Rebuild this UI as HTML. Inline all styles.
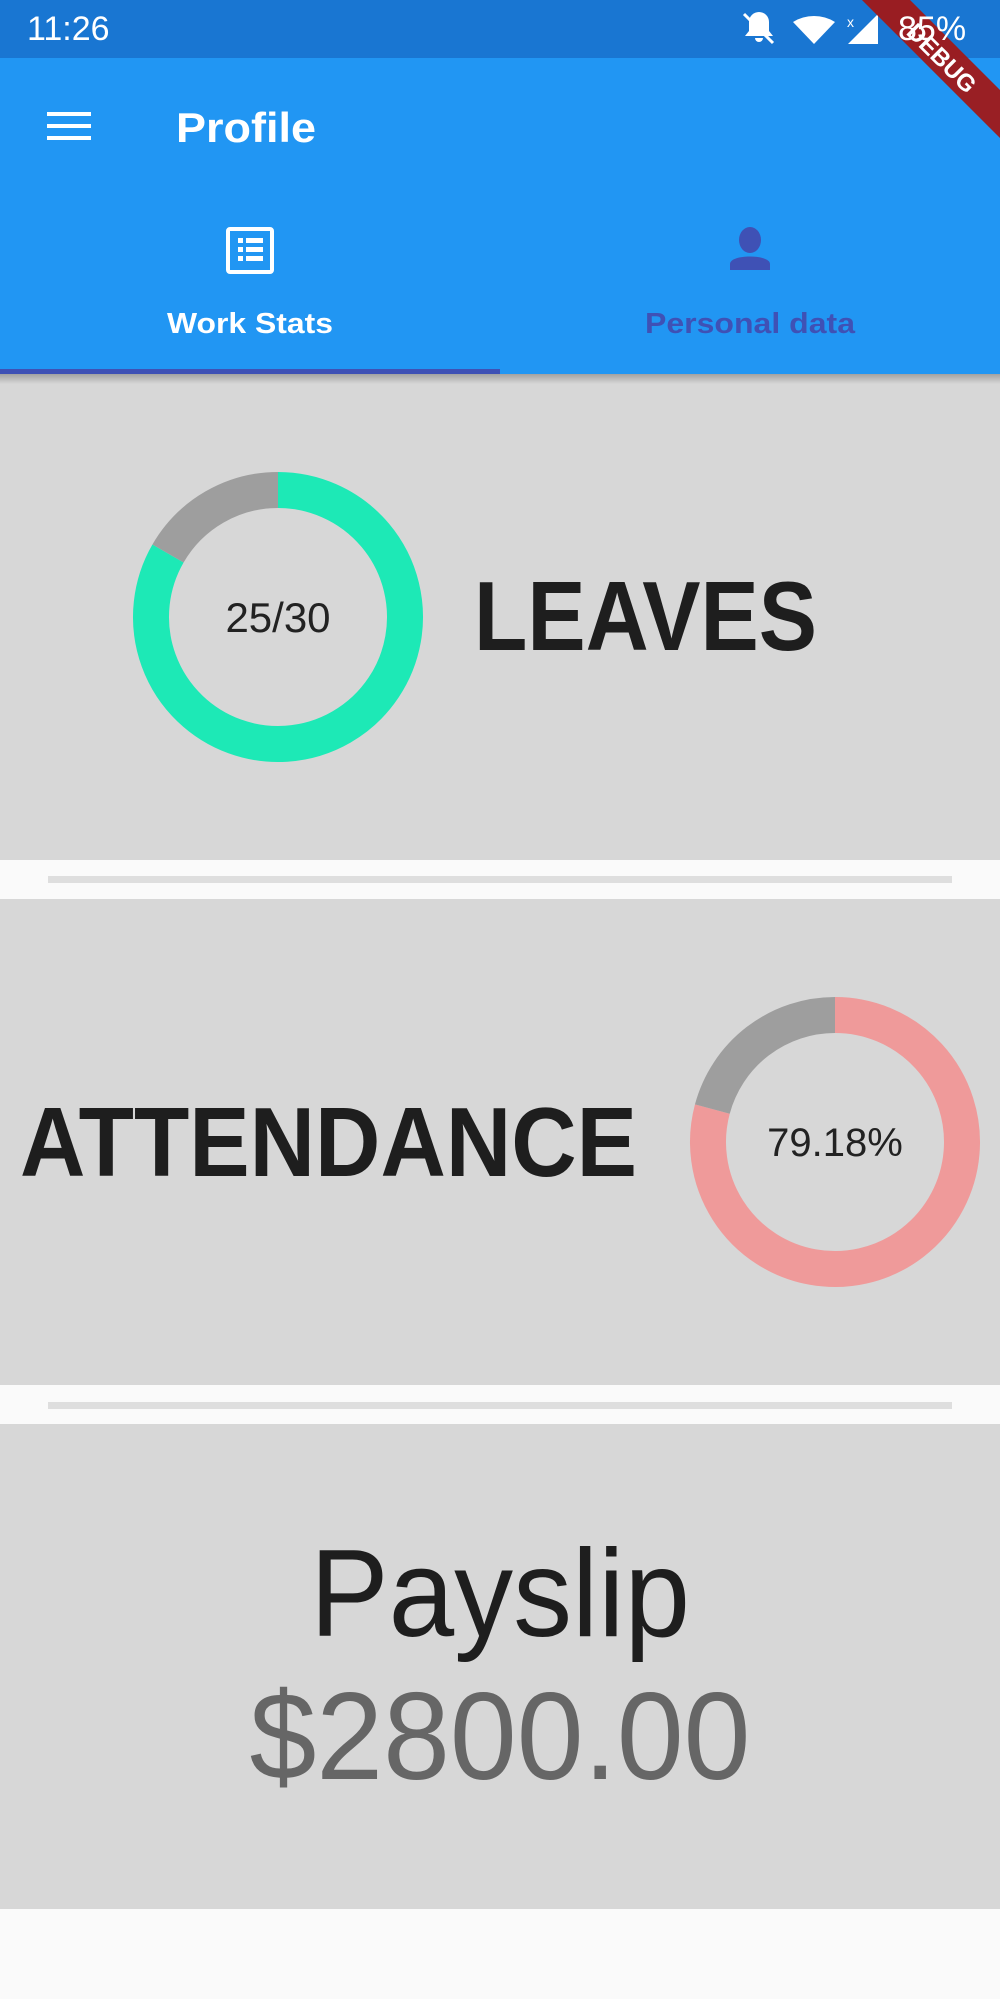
<!DOCTYPE html>
<html><head><meta charset="utf-8"><style>
html,body{margin:0;padding:0;background:#fafafa;}
body{width:1000px;height:1999px;overflow:hidden;position:relative;font-family:"Liberation Sans",sans-serif;}
svg{position:absolute;left:0;top:0;}
</style></head><body>
<svg width="1000" height="1999" viewBox="0 0 1000 1999">
<defs>
<linearGradient id="sh" x1="0" y1="0" x2="0" y2="1"><stop offset="0" stop-color="#000" stop-opacity="0.25"/><stop offset="1" stop-color="#000" stop-opacity="0"/></linearGradient>
</defs>
<rect x="0" y="0" width="1000" height="1999" fill="#fafafa"/>
<!-- status bar -->
<rect x="0" y="0" width="1000" height="58" fill="#1976d2"/>
<text x="27" y="40" font-size="34" fill="#fff">11:26</text>
<g fill="#fff">
<path d="M745 36 h28 l-4 -5 v-9 a10 10 0 0 0 -20 0 v9 z M755 38 h8 a4 4 0 0 1 -8 0z"/>
<line x1="744" y1="14" x2="773" y2="43" stroke="#fff" stroke-width="3"/>
<path d="M793 22 a40 40 0 0 1 42 0 l-21 22z"/>
<path d="M848 44 l30 -30 v30z" />
<text x="847" y="27" font-size="14">x</text>
</g>
<!-- app bar -->
<rect x="0" y="58" width="1000" height="316" fill="#2196f3"/>
<g fill="#fff">
<rect x="47" y="112" width="44" height="4"/><rect x="47" y="124" width="44" height="4"/><rect x="47" y="136" width="44" height="4"/>
</g>
<text x="176" y="142" font-size="42" font-weight="bold" fill="#fff" textLength="140" lengthAdjust="spacingAndGlyphs">Profile</text>
<g>
<rect x="228" y="229" width="44" height="43" rx="2" fill="none" stroke="#fff" stroke-width="4"/>
<g fill="#fff"><rect x="238" y="238" width="5" height="5"/><rect x="246" y="238" width="17" height="5"/><rect x="238" y="247" width="5" height="5"/><rect x="246" y="247" width="17" height="5"/><rect x="238" y="256" width="5" height="5"/><rect x="246" y="256" width="17" height="5"/></g>
<text x="250" y="333" font-size="29" font-weight="bold" fill="#fff" text-anchor="middle" textLength="166" lengthAdjust="spacingAndGlyphs">Work Stats</text>
</g>
<g fill="#3f51b5">
<ellipse cx="750" cy="240" rx="11" ry="13"/>
<path d="M730 270 v-6 c0 -10 40 -10 40 0 v6z"/>
<text x="750" y="333" font-size="29" font-weight="bold" text-anchor="middle" textLength="210" lengthAdjust="spacingAndGlyphs">Personal data</text>
</g>
<rect x="0" y="369" width="500" height="5" fill="#3f51b5"/>
<!-- debug banner -->
<g transform="translate(943,57) rotate(45)">
<rect x="-100" y="-17" width="200" height="34" fill="#a01818" opacity="0.95"/>
<text x="0" y="10" font-size="24" font-weight="bold" fill="#fff" text-anchor="middle">DEBUG</text>
</g>
<text x="898" y="40" font-size="34" fill="#fff">85%</text>
<!-- panels -->
<rect x="0" y="374" width="1000" height="486" fill="#d7d7d7"/>
<rect x="0" y="374" width="1000" height="10" fill="url(#sh)"/>
<rect x="48" y="876" width="904" height="7" fill="#dedede"/>
<rect x="0" y="899" width="1000" height="486" fill="#d7d7d7"/>
<rect x="48" y="1402" width="904" height="7" fill="#dedede"/>
<rect x="0" y="1424" width="1000" height="485" fill="#d7d7d7"/>
<g id="donuts"></g>
<text x="278" y="632" font-size="42" fill="#222" text-anchor="middle">25/30</text>
<text x="474" y="650" font-size="98" font-weight="bold" fill="#1e1e1e" textLength="343" lengthAdjust="spacingAndGlyphs">LEAVES</text>
<text x="20" y="1176" font-size="98" font-weight="bold" fill="#1e1e1e" textLength="617" lengthAdjust="spacingAndGlyphs">ATTENDANCE</text>
<text x="835" y="1156" font-size="40" fill="#222" text-anchor="middle">79.18%</text>
<text x="500" y="1636" font-size="124" fill="#1e1e1e" text-anchor="middle" textLength="380" lengthAdjust="spacingAndGlyphs">Payslip</text>
<text x="500" y="1779" font-size="124" fill="#666" text-anchor="middle" textLength="501" lengthAdjust="spacingAndGlyphs">$2800.00</text>
</svg>
<script>
const donutNames = ['leaves', 'attendance'];
const donutValues = [25, 79.18];
const donutTotals = [30, 100];
const donutColors = ['#1de9b6', '#ef9a9a'];
const donutCenters = [[278, 617], [835, 1142]];
const g = document.getElementById('donuts');
const NS = 'http://www.w3.org/2000/svg';
const R = 127, W = 36;
function pt(cx, cy, a) { return [cx + R * Math.sin(a), cy - R * Math.cos(a)]; }
function arc(cx, cy, a0, a1) {
  const p0 = pt(cx, cy, a0), p1 = pt(cx, cy, a1);
  const large = (a1 - a0) > Math.PI ? 1 : 0;
  return `M${p0[0]} ${p0[1]} A${R} ${R} 0 ${large} 1 ${p1[0]} ${p1[1]}`;
}
donutValues.forEach((v, i) => {
  const [cx, cy] = donutCenters[i];
  const frac = v / donutTotals[i];
  const a = frac * 2 * Math.PI;
  const p1 = document.createElementNS(NS, 'path');
  p1.setAttribute('d', arc(cx, cy, 0, a));
  p1.setAttribute('fill', 'none');
  p1.setAttribute('stroke', donutColors[i]);
  p1.setAttribute('stroke-width', W);
  
  
  g.appendChild(p1);
  const p2 = document.createElementNS(NS, 'path');
  p2.setAttribute('d', arc(cx, cy, a, 2 * Math.PI - 0.0001));
  p2.setAttribute('fill', 'none');
  p2.setAttribute('stroke', '#9e9e9e');
  p2.setAttribute('stroke-width', W);
  
  
  g.appendChild(p2);
});
</script>
</body></html>
